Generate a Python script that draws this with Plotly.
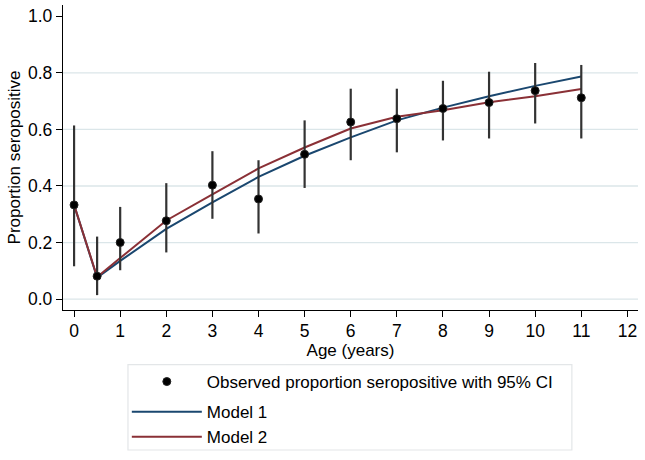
import plotly.graph_objects as go

# ---- data ----
age = [0, 0.5, 1, 2, 3, 4, 5, 6, 7, 8, 9, 10, 11]
observed = [0.333, 0.081, 0.200, 0.277, 0.403, 0.354, 0.512, 0.626, 0.638, 0.674, 0.695, 0.737, 0.712]
ci_low = [0.116, 0.014, 0.102, 0.165, 0.284, 0.232, 0.393, 0.491, 0.519, 0.561, 0.568, 0.621, 0.568]
ci_high = [0.614, 0.221, 0.326, 0.410, 0.523, 0.491, 0.632, 0.744, 0.744, 0.772, 0.804, 0.835, 0.828]
model1 = [0.333, 0.076, 0.135, 0.248, 0.342, 0.432, 0.507, 0.572, 0.632, 0.677, 0.717, 0.754, 0.787]
model2 = [0.333, 0.078, 0.145, 0.278, 0.370, 0.462, 0.536, 0.603, 0.645, 0.668, 0.696, 0.717, 0.743]
x_ticks = list(range(0, 13))
y_ticks = [0.0, 0.2, 0.4, 0.6, 0.8, 1.0]
y_grid = [0.0, 0.2, 0.4, 0.6, 0.8]

FONT = "Liberation Sans, Arial, sans-serif"
NAVY = "#1a476f"
MAROON = "#8a3036"
GRID = "#dbe6e9"

err_plus = [h - v for h, v in zip(ci_high, observed)]
err_minus = [v - l for v, l in zip(observed, ci_low)]

fig = go.Figure()
fig.add_trace(go.Scatter(x=age, y=model1, mode="lines", name="Model 1",
                         line=dict(color=NAVY, width=2), legendrank=2,
                         legendgroup="m"))
fig.add_trace(go.Scatter(x=age, y=model2, mode="lines", name="Model 2",
                         line=dict(color=MAROON, width=2), legendrank=3,
                         legendgroup="m"))
fig.add_trace(go.Scatter(x=age, y=observed, mode="markers",
                         name="Observed proportion seropositive with 95% CI",
                         marker=dict(color="black", size=8,
                                     line=dict(color="#222", width=1)),
                         error_y=dict(type="data", array=err_plus, arrayminus=err_minus,
                                      color="#333333", thickness=2.2, width=0),
                         legendrank=1, legendgroup="o"))

shapes = []
for g in y_grid:
    shapes.append(dict(type="line", xref="paper", yref="y", x0=0, x1=1, y0=g, y1=g,
                       line=dict(color=GRID, width=1.3), layer="below"))
# legend frame
shapes.append(dict(type="rect", xref="paper", yref="paper",
                   x0=0.113, x1=0.885, y0=-0.459, y1=-0.179,
                   line=dict(color="#e3e6e8", width=1.2), fillcolor="rgba(0,0,0,0)"))

fig.update_layout(
    width=645, height=460,
    margin=dict(l=63, r=7, t=5, b=148),
    paper_bgcolor="white", plot_bgcolor="white",
    font=dict(family=FONT, size=17, color="black"),
    shapes=shapes,
    showlegend=True,
    legend=dict(x=0.111, xanchor="left", y=-0.177, yanchor="top",
                bgcolor="rgba(0,0,0,0)", borderwidth=0,
                itemwidth=70, tracegroupgap=5, traceorder="grouped",
                font=dict(family=FONT, size=17, color="black")),
)
fig.update_xaxes(range=[-0.24, 12.23], tickvals=x_ticks, showgrid=False, zeroline=False,
                 showline=True, linecolor="black", linewidth=1.3, automargin=False,
                 ticks="outside", ticklen=6, tickwidth=1.3, tickcolor="black",
                 ticklabelstandoff=-1,
                 title=dict(text="Age (years)", standoff=0, font=dict(size=17)),
                 tickfont=dict(size=17.5))
fig.update_yaxes(range=[-0.0386, 1.04], tickvals=y_ticks, ticktext=[f"{v:.1f}" for v in y_ticks],
                 showgrid=False, zeroline=False, automargin=False,
                 showline=True, linecolor="black", linewidth=1.3,
                 ticks="outside", ticklen=6, tickwidth=1.3, tickcolor="black",
                 title=dict(text="Proportion seropositive", standoff=3, font=dict(size=17)),
                 tickfont=dict(size=17.5))

fig.write_html("out.html", config={"displayModeBar": False},
               post_script="document.body.style.margin='0';")
